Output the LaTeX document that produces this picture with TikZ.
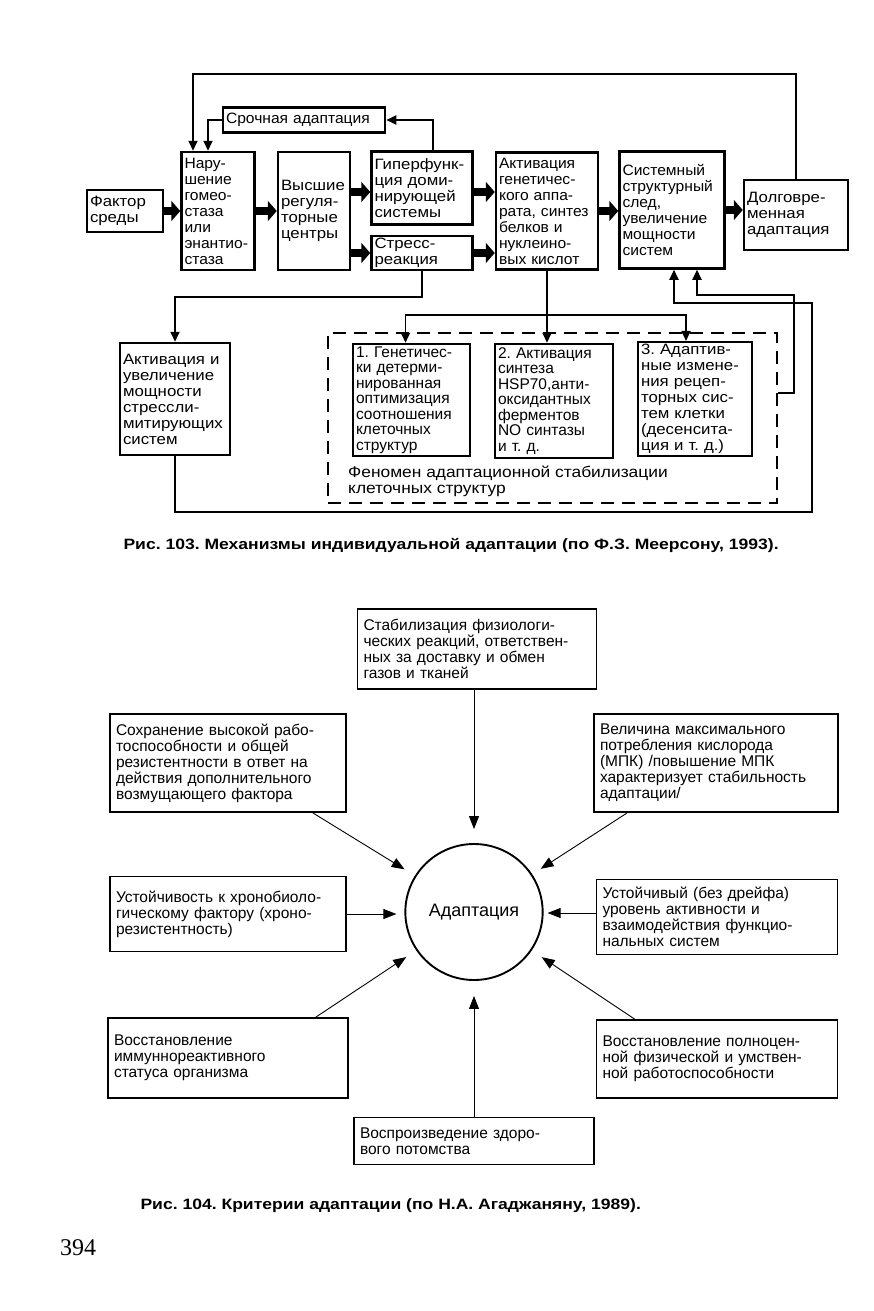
\documentclass[tikz,border=0pt]{standalone}
\usepackage{fontspec}
\setmainfont{Liberation Sans}
\newfontfamily\midfont[FakeStretch=1.12]{Liberation Sans}
\newfontfamily\widefont[FakeStretch=1.17]{Liberation Sans}
\newfontfamily\tightfont[FakeStretch=1.04]{Liberation Sans}
\newfontfamily\pagefont{Liberation Serif}
\usetikzlibrary{arrows.meta,shapes.geometric}
\frenchspacing

\begin{document}
\begin{tikzpicture}[x=1pt,y=-1pt,
    >={Triangle[length=10pt,width=9pt]},
    box/.style={draw,line width=2.5pt,inner xsep=3pt,inner ysep=2pt,align=left,font=\midfont\fontsize{15}{16}\selectfont},
    tbox/.style={box,font=\tightfont\fontsize{15}{16}\selectfont},
    nbox/.style={box,font=\fontsize{15.5}{15.5}\selectfont},
    fat/.style={line width=8pt,-{Triangle[length=9pt,width=20pt]}},
    link/.style={line width=1.8pt,->},
    crit/.style={draw,line width=1.9pt,inner xsep=6pt,inner ysep=3pt,align=left,font=\fontsize{15.5}{16}\selectfont},
    ray/.style={line width=0.9pt,-{Triangle[length=13pt,width=10pt]}},
    caption/.style={anchor=west,font=\widefont\bfseries\fontsize{15}{15}\selectfont}]
    \fill[white] (0,0) rectangle (874,1311);
    \useasboundingbox (0,0) rectangle (874,1311);
    \node[box,text width=70pt,minimum height=42pt] (fak) at (125,211) {Фактор\\среды};
    \node[tbox,text width=67pt,minimum height=118pt] (nar) at (218,211) {Нару-\\шение\\гомео-\\стаза\\или\\энантио-\\стаза};
    \node[box,text width=66pt,minimum height=118pt] (vys) at (314,211) {Высшие\\регуля-\\торные\\центры};
    \node[box,text width=95pt,minimum height=73pt] (gip) at (422,188) {Гиперфунк-\\ция доми-\\нирующей\\системы};
    \node[box,text width=95pt,minimum height=33pt] (str) at (422,253) {Стресс-\\реакция};
    \node[tbox,text width=96pt,minimum height=117pt] (akt) at (547,211) {Активация\\генетичес-\\кого аппа-\\рата, синтез\\белков и\\нуклеино-\\вых кислот};
    \node[tbox,text width=99pt,minimum height=117pt] (sis) at (672,210) {Системный\\структурный\\след,\\увеличение\\мощности\\систем};
    \node[box,text width=98pt,minimum height=70pt] (dol) at (796,215) {Долговре-\\менная\\адаптация};
    \node[tbox,text width=156pt,minimum height=25pt] (sro) at (304,120) {Срочная адаптация};
    \node[box,text width=104pt,minimum height=112pt] (ais) at (175,399) {Активация и\\увеличение\\мощности\\стрессли-\\митирующих\\систем};
    \node[draw,dashed,dash pattern=on 13pt off 8pt,line width=1.8pt,minimum width=449pt,minimum height=170pt] (grp) at (552.5,418) {};
    \node[nbox,text width=111pt,minimum height=112pt] (b1) at (411.5,400) {1. Генетичес-\\ки детерми-\\нированная\\оптимизация\\соотношения\\клеточных\\структур};
    \node[nbox,text width=112pt,minimum height=114pt] (b2) at (554,401) {2. Активация\\синтеза\\HSP70,анти-\\оксидантных\\ферментов\\NO синтазы\\и т. д.};
    \node[box,text width=108pt,minimum height=112pt] (b3) at (695,399) {3. Адаптив-\\ные измене-\\ния рецеп-\\торных сис-\\тем клетки\\(десенсита-\\ция и т. д.)};
    \node[anchor=north west,align=left,inner sep=0pt,font=\midfont\fontsize{15.5}{15.5}\selectfont] (fen) at (348,466) {Феномен адаптационной стабилизации\\клеточных структур};
    \draw[fat] (fak) -- (nar);
    \draw[fat] (nar) -- (vys);
    \draw[fat] ([yshift=19pt]vys.east) -- ([yshift=19pt]vys.east -| gip.west);
    \draw[fat] ([yshift=-42pt]vys.east) -- ([yshift=-42pt]vys.east -| str.west);
    \draw[fat] ([yshift=-4pt]gip.east) -- ([yshift=-4pt]gip.east -| akt.west);
    \draw[fat] (str.east) -- (str.east -| akt.west);
    \draw[fat] (akt.east) -- (akt.east -| sis.west);
    \draw[fat] (sis.east) -- (sis.east -| dol.west);
    \draw[link] (dol.north) |- ([xshift=-25pt,yshift=77pt]nar.north) -- ([xshift=-25pt]nar.north);
    \draw[link] (sro.west) -| ([xshift=-10pt]nar.north);
    \draw[link] ([xshift=11pt]gip.north) |- (sro.east);
    \draw[link] (str.south) |- ([yshift=45pt]ais.north) -- (ais.north);
    \draw[link] (akt.south) -- (akt.south |- b2.north);
    \draw[link,<->] ([xshift=-6pt]b1.north) |- ([xshift=-9pt,yshift=26pt]b3.north) -- ([xshift=-9pt]b3.north);
    \coordinate (loop) at (812,512);
    \draw[link] (ais.south) |- (loop) |- ([xshift=2pt,yshift=-33pt]sis.south) -- ([xshift=2pt]sis.south);
    \draw[link] ([yshift=25pt]grp.east) -- ++(16,0) |- ([xshift=25pt,yshift=-25pt]sis.south) -- ([xshift=25pt]sis.south);
    \node[caption] (cap1) at (120,545) {Рис. 103. Механизмы индивидуальной адаптации (по Ф.З. Меерсону, 1993).};
    \node[crit,text width=227pt,minimum height=80pt] (k1) at (477,649) {Стабилизация физиологи-\\ческих реакций, ответствен-\\ных за доставку и обмен\\газов и тканей};
    \node[crit,text width=224pt,minimum height=98pt] (k2) at (228,763) {Сохранение высокой рабо-\\тоспособности и общей\\резистентности  в ответ на\\действия дополнительного\\возмущающего фактора};
    \node[crit,text width=232pt,minimum height=98pt] (k3) at (716,763) {Величина максимального\\потребления кислорода\\(МПК) /повышение МПК\\характеризует стабильность\\адаптации/};
    \node[crit,text width=224pt,minimum height=75pt] (k4) at (228,914) {Устойчивость к хронобиоло-\\гическому фактору (хроно-\\резистентность)};
    \node[crit,text width=229pt,minimum height=75pt] (k5) at (717,917) {Устойчивый (без дрейфа)\\уровень активности и\\взаимодействия функцио-\\нальных систем};
    \node[crit,text width=228pt,minimum height=80pt] (k6) at (228,1058) {Восстановление\\иммуннореактивного\\статуса организма};
    \node[crit,text width=229pt,minimum height=78pt] (k7) at (717,1059) {Восстановление полноцен-\\ной физической и умствен-\\ной работоспособности};
    \node[crit,text width=228pt,minimum height=47pt] (k8) at (474,1141) {Воспроизведение здоро-\\вого потомства};
    \node[draw,ellipse,line width=1.9pt,minimum width=132pt,minimum height=136pt,font=\fontsize{18}{18}\selectfont] (c) at (474,912) {Адаптация};
    \draw[ray,shorten >=14pt] ([xshift=-3pt]k1.south) -- ([xshift=-3pt]k1.south |- c.north);
    \draw[ray,shorten >=12pt] ([xshift=-34pt]k2.south east) -- (c);
    \draw[ray,shorten >=10pt] ([xshift=34pt]k3.south west) -- (c);
    \draw[ray,shorten >=8pt] (k4.east) -- (k4.east -| c.west);
    \draw[ray,shorten >=4pt] ([yshift=4pt]k5.west) -- ([yshift=4pt]k5.west -| c.east);
    \draw[ray,shorten >=12pt] ([xshift=-33pt]k6.north east) -- (c);
    \draw[ray,shorten >=12pt] ([xshift=39pt]k7.north west) -- (c);
    \draw[ray,shorten >=15pt] (k8.north) -- (k8.north |- c.south);
    \node[caption] (cap2) at (137,1206) {Рис. 104. Критерии адаптации (по Н.А. Агаджаняну, 1989).};
    \node[anchor=west,inner sep=0pt,font=\pagefont\fontsize{24}{24}\selectfont] (pg) at (60,1248) {394};
\end{tikzpicture}
\end{document}
